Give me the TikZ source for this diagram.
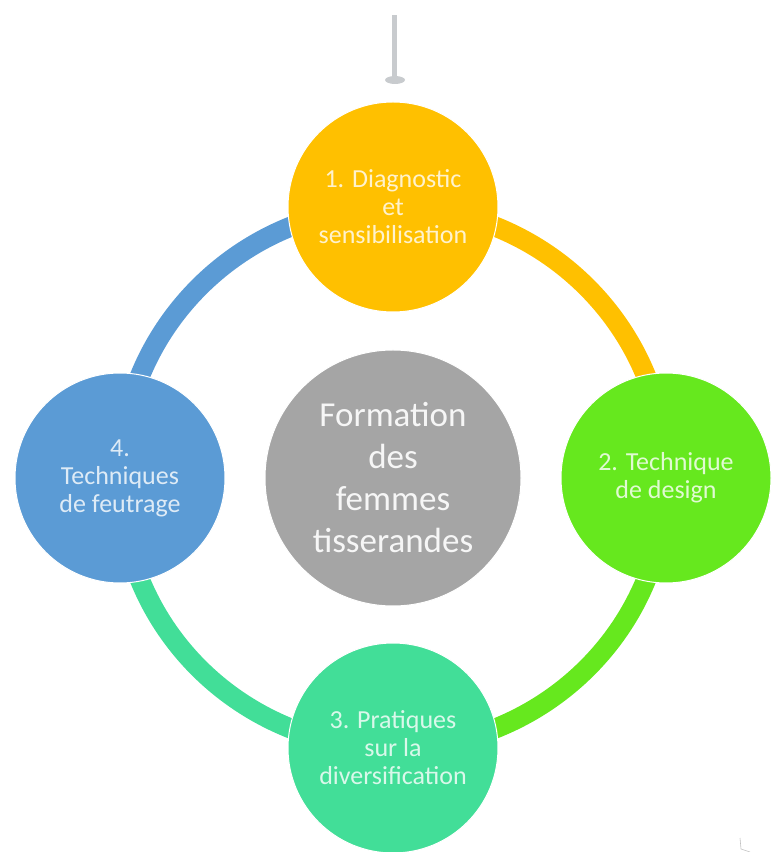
\documentclass[tikz,border=0pt]{standalone}
\usepackage{fontspec}
\setmainfont{Carlito}
\usetikzlibrary{backgrounds}
\definecolor{ringgold}{RGB}{255,192,0}
\definecolor{ringlime}{RGB}{102,232,30}
\definecolor{ringteal}{RGB}{66,222,152}
\definecolor{ringblue}{RGB}{91,155,213}
\definecolor{hubgray}{RGB}{165,165,165}
\definecolor{pingray}{RGB}{200,203,206}

\begin{document}
\begin{tikzpicture}[x=1pt, y=1pt]
    % Define styles
    \tikzset{
        stage/.style={circle, draw=white, line width=1pt, minimum size=210pt, inner sep=0pt, align=center, text=white, text opacity=0.8, font=\fontsize{26}{28}\selectfont},
        hub/.style={stage, minimum size=256pt, fill=hubgray, text opacity=0.9, font=\fontsize{35}{42}\selectfont},
        ring/.style={line width=20pt}
    }
    \useasboundingbox (0,0) rectangle (776,852);

    % Pin
    \fill[pingray] (392,774) rectangle (397,837);
    \fill[pingray] (395,772) ellipse [x radius=10, y radius=4];

    % Circles
    \node[hub] (hub) at (393,374) {Formation\\des\\femmes\\tisserandes};
    \node[stage, fill=ringgold] (diag) at (393,645) {1. Diagnostic\\et\\sensibilisation};
    \node[stage, fill=ringlime] (design) at (666,374) {2. Technique\\de design};
    \node[stage, fill=ringteal] (divers) at (393,104) {3. Pratiques\\sur la\\diversification};
    \node[stage, fill=ringblue] (feutr) at (120,374) {4.\\Techniques\\de feutrage};

    % Ring
    \begin{scope}[on background layer]
        \draw[ring, ringgold] (diag.center) to[out=0, in=90] (design.center);
        \draw[ring, ringlime] (design.center) to[out=-90, in=0] (divers.center);
        \draw[ring, ringteal] (divers.center) to[out=180, in=-90] (feutr.center);
        \draw[ring, ringblue] (feutr.center) to[out=90, in=180] (diag.center);
    \end{scope}

    % Corner mark
    \draw[gray!50, line width=0.6pt] (740,14) -- (741,3) -- (750,0);
\end{tikzpicture}
\end{document}
